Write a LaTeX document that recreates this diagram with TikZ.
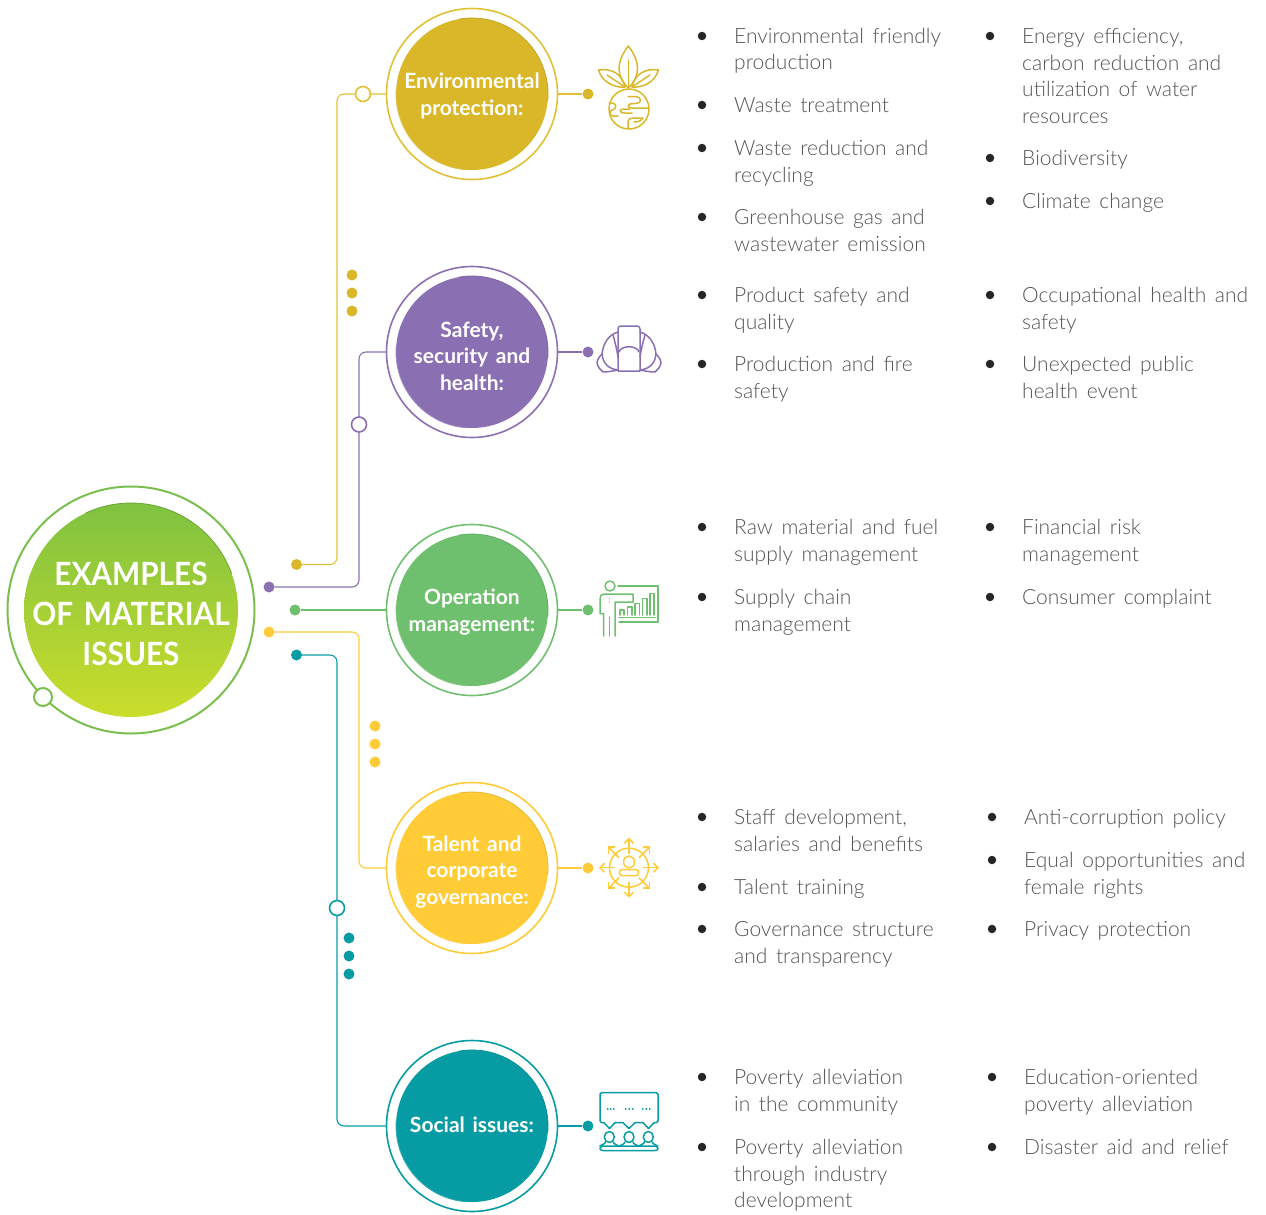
\documentclass[tikz,border=0pt]{standalone}
\usepackage{fontspec}
\setmainfont{Lato}[UprightFont=* Light,BoldFont=* Bold,WordSpace=1.5]
\newfontfamily\mainlabelfont{Lato}[UprightFont=* Bold,FakeStretch=0.93,WordSpace=1.5]
\usetikzlibrary{arrows.meta,calc}
\definecolor{cgold}{HTML}{D9B728}
\definecolor{cgoldl}{HTML}{E2C035}
\definecolor{cpurple}{HTML}{8B6FB3}
\definecolor{cgreen}{HTML}{6FC06E}
\definecolor{cyel}{HTML}{FFCB37}
\definecolor{cteal}{HTML}{079CA4}
\definecolor{cmain}{HTML}{7ABF4E}
\definecolor{ctop}{HTML}{7FC241}
\definecolor{cbot}{HTML}{CBDD2B}
\definecolor{ctext}{HTML}{545454}
\definecolor{cbul}{HTML}{262626}
\tikzset{
  x=1pt,y=-1pt,
  ring/.style={circle,draw=#1,line width=1.6pt,fill=white,minimum size=171pt,inner sep=0pt},
  disc/.style={circle,fill=#1,minimum size=152pt,inner sep=0pt,outer sep=0pt},
  disclabel/.style={inner sep=0pt,text=white,align=center,
     font={\bfseries\fontsize{21}{26.6}\selectfont}},
  dot/.style={circle,fill=#1,minimum size=11pt,inner sep=0pt},
  hollow/.style={circle,draw=#1,fill=white,line width=1.6pt,minimum size=15pt,inner sep=0pt},
  wire/.style={draw=#1,line width=1.1pt,rounded corners=7pt},
  icon/.style={draw=#1,line width=1.5pt,line cap=round,line join=round},
  itemtext/.style={anchor=north west,inner sep=0pt,align=left,text=ctext,
     font={\fontsize{21}{26.8}\selectfont}},
  bulletdot/.style={circle,fill=cbul,minimum size=8.5pt,inner sep=0pt},
}
\newcommand{\itm}[5]{% bulletx, textx, y, name, text
  \node[bulletdot] (b#4) at (#1,#3) {};
  \node[itemtext] (t#4) at (#2,#3-16) {\rule{0pt}{23pt}#5};}
\newcommand{\bevel}[3]{% node, colour, radius
  \draw[#2!90!black,line width=0.8pt,line cap=round,y=1pt] (#1.100) arc[start angle=100,end angle=-5,radius=#3];
  \draw[#2!82!white,line width=0.8pt,line cap=round,y=1pt] (#1.265) arc[start angle=265,end angle=175,radius=#3];}
\begin{document}
\begin{tikzpicture}
\useasboundingbox (0,0) rectangle (1266,1215);
% main
\node[circle,draw=cmain,line width=2pt,minimum size=247pt,inner sep=0pt] (mainring) at (131,610) {};
\node[circle,minimum size=214pt,inner sep=0pt,outer sep=0pt,top color=ctop,bottom color=cbot] (maindisc) at (131,610) {};
\draw[ctop!85!black,line width=0.8pt,line cap=round,y=1pt] (maindisc.115) arc[start angle=115,end angle=20,radius=107];
\node[text=white,align=center,inner sep=0pt,font={\mainlabelfont\fontsize{32}{40.3}\selectfont}] (main) at (131,614) {EXAMPLES\\OF MATERIAL\\ISSUES};
\node[hollow=cmain,minimum size=18pt,line width=2pt] (mainknob) at (43,697) {};
% circles
\node[ring=cgoldl] (r1) at (472,94) {};
\node[ring=cpurple] (r2) at (472,352) {};
\node[ring=cgreen] (r3) at (472,610) {};
\node[ring=cyel] (r4) at (472,868) {};
\node[ring=cteal] (r5) at (472,1126) {};
\node[disc=cgold] (c1) at (472,94) {};
\node[disc=cpurple] (c2) at (472,352) {};
\node[disc=cgreen] (c3) at (472,610) {};
\node[disc=cyel] (c4) at (472,868) {};
\node[disc=cteal] (c5) at (472,1126) {};
\bevel{c1}{cgold}{76}
\bevel{c2}{cpurple}{76}
\bevel{c3}{cgreen}{76}
\bevel{c4}{cyel}{76}
\bevel{c5}{cteal}{76}
\node[disclabel] (l1) at (472,96) {Environmental\\protection:};
\node[disclabel] (l2) at (472,356) {Safety,\\security and\\health:};
\node[disclabel] (l3) at (472,612) {Operation\\management:};
\node[disclabel] (l4) at (472,872) {Talent and\\corporate\\governance:};
\node[disclabel] (l5) at (472,1125) {Social issues:};
% start dots
\node[dot=cgold] (s1) at (296.5,564.5) {};
\node[dot=cpurple] (s2) at (269,587) {};
\node[dot=cgreen] (s3) at (295,610) {};
\node[dot=cyel] (s4) at (269,632) {};
\node[dot=cteal] (s5) at (296.5,655) {};
% end dots
\node[dot=cgold] (e1) at (588,94) {};
\node[dot=cpurple] (e2) at (588,352) {};
\node[dot=cgreen] (e3) at (588,610) {};
\node[dot=cyel] (e4) at (588,868) {};
\node[dot=cteal] (e5) at (588,1126) {};
% bends
\coordinate (k1) at (337,94);
\coordinate (k2) at (359,352);
\coordinate (k4) at (359,868);
\coordinate (k5) at (337,1126);
% wires
\draw[wire=cgoldl] (s1) -| (k1) -- (r1);
\draw[wire=cpurple] (s2) -| (k2) -- (r2);
\draw[wire=cgreen] (s3) -- (r3);
\draw[wire=cyel] (s4) -| (k4) -- (r4);
\draw[wire=cteal] (s5) -| (k5) -- (r5);
\draw[wire=cgoldl] (r1) -- (e1);
\draw[wire=cpurple] (r2) -- (e2);
\draw[wire=cgreen] (r3) -- (e3);
\draw[wire=cyel] (r4) -- (e4);
\draw[wire=cteal] (r5) -- (e5);
% hollow knobs
\node[hollow=cgoldl] (h1) at (363,94) {};
\node[hollow=cpurple] (h2) at (359,424.5) {};
\node[hollow=cteal] (h5) at (337,908) {};
% triple dots
\node[dot=cgold] (g1) at (352,275) {};
\node[dot=cgold] (g2) at (352,293) {};
\node[dot=cgold] (g3) at (352,311) {};
\node[dot=cyel] (y1) at (375,726) {};
\node[dot=cyel] (y2) at (375,744) {};
\node[dot=cyel] (y3) at (375,762) {};
\node[dot=cteal] (q1) at (349,938) {};
\node[dot=cteal] (q2) at (349,956) {};
\node[dot=cteal] (q3) at (349,974) {};
% icon 1: plant and globe
\begin{scope}[icon=cgold]
\draw (628.3,88) .. controls (616,76) and (616,62) .. (628.3,46) .. controls (640.6,62) and (640.6,76) .. (628.3,88) -- cycle;
\draw (628.3,60) -- (628.3,88);
\draw (625,87) .. controls (614,88) and (602,82) .. (598.5,70) .. controls (612,68) and (622,74) .. (625,87) -- cycle;
\draw (607,75) -- (625,87);
\draw (632,87) .. controls (643,88) and (655,82) .. (658.5,70) .. controls (645,68) and (635,74) .. (632,87) -- cycle;
\draw (650,75) -- (632,87);
\draw (629,109) circle (20);
\draw (628,96.5) -- (636,96.5) .. controls (642,97) and (642,103.5) .. (636,103.5) -- (632,103.5) .. controls (627,104) and (627,108) .. (632,108) -- (648,108);
\draw (609,103) -- (612,103) .. controls (617,103) and (617,110) .. (612,110) .. controls (609,111) and (609,116) .. (613,116) -- (618,116);
\draw (632,113) -- (624,113) .. controls (619,113) and (619,109) .. (624,109) -- (630,109);
\draw (628,128) -- (628,122) .. controls (628,119) and (630,118) .. (633,118) -- (643,118) .. controls (640,122) and (637,122) .. (634,122);
\end{scope}
% icon 2: helmet
\begin{scope}[icon=cpurple]
\draw (618,371) -- (618,329) .. controls (618,327) and (619,326) .. (621,326) -- (637,326) .. controls (639,326) and (640,327) .. (640,329) -- (640,371) -- cycle;
\draw (619,352) .. controls (621,345) and (637,345) .. (639,352);
\draw (618,332) .. controls (608,335) and (603,344) .. (602,354) .. controls (599,357) and (597,360) .. (597,363) .. controls (598,367) and (600,370) .. (603,372) .. controls (608,372) and (613,371) .. (618,370);
\draw (640,332) .. controls (650,335) and (655,344) .. (656,354) .. controls (659,357) and (661,360) .. (661,363) .. controls (660,367) and (658,370) .. (655,372) .. controls (650,372) and (645,371) .. (640,370);
\draw (613,335) .. controls (615,342) and (617,350) .. (618,357);
\draw (645,335) .. controls (643,342) and (641,350) .. (640,357);
\draw (602,354) .. controls (603,364) and (609,369) .. (618,370);
\draw (656,354) .. controls (655,364) and (649,369) .. (640,370);
\end{scope}
% icon 3: presenter
\begin{scope}[icon=cgreen]
\draw (610,586) circle (5);
\draw (618,586) -- (658,586) -- (658,622) -- (619,622);
\draw (619,617.5) -- (655,617.5);
\draw (620,615) -- (620,610) -- (624,610) -- (624,615);
\draw (627.5,615) -- (627.5,607) -- (632,607) -- (632,615);
\draw (635,615) -- (635,603.5) -- (639.5,603.5) -- (639.5,615);
\draw (642.5,615) -- (642.5,598.5) -- (647,598.5) -- (647,615);
\draw (650,615) -- (650,593.5) -- (654,593.5) -- (654,615);
\draw (603.5,636) -- (603.5,613.5) -- (600,613.5) -- (600,599) .. controls (600,596) and (601,594) .. (604,594) -- (633,594) -- (633,602) -- (615,602) -- (615,636);
\draw (609.5,617) -- (609.5,636);
\draw (609.5,598.5) -- (609.5,598.6);
\draw (609.5,602) -- (609.5,602.1);
\end{scope}
% icon 4: person and arrows
\begin{scope}[icon=cyel]
\draw (629,867.7) circle (19.5);
\foreach \a in {0,45,...,315}{
  \draw[-{Straight Barb[length=4.5pt,width=9pt]}] ($(629,867.7)+(\a:14.5)$) -- ($(629,867.7)+(\a:30)$);
}
\draw (629,862) ellipse (5.5 and 6);
\draw (622,869.5) -- (636,869.5) .. controls (640,870) and (639,875.7) .. (636,875.7) -- (622,875.7) .. controls (619,875.7) and (618,870) .. (622,869.5) -- cycle;
\end{scope}
% icon 5: speech and audience
\begin{scope}[icon=cteal]
\draw (601.5,1092.7) -- (656.5,1092.7) .. controls (657.5,1092.7) and (658,1093.2) .. (658,1094.2) -- (658,1121) .. controls (658,1122) and (657.5,1122.7) .. (656.5,1122.7) -- (654,1122.7) -- (648.5,1128.5) -- (643,1122.7) -- (635,1122.7) -- (629,1128.5) -- (623,1122.7) -- (615,1122.7) -- (609.5,1128.5) -- (604,1122.7) -- (601.5,1122.7) .. controls (600.5,1122.7) and (600,1122) .. (600,1121) -- (600,1094.2) .. controls (600,1093.2) and (600.5,1092.7) .. (601.5,1092.7) -- cycle;
\foreach \x in {607.5,610.5,613.5,625.5,629,632.5,642.5,646,649.5}{\draw (\x,1109) -- (\x+0.4,1109);}
\foreach \x in {609.3,629,648.3}{
  \draw (\x,1137) ellipse (5 and 5.5);
  \draw (\x-4,1142) .. controls (\x-4,1144) and (\x-8,1145) .. (\x-9.5,1146);
  \draw (\x+4,1142) .. controls (\x+4,1144) and (\x+8,1145) .. (\x+9.5,1146);
}
\draw (603,1146) -- (655,1146) .. controls (659,1147) and (659,1150.5) .. (655,1150.5) -- (603,1150.5) .. controls (599,1150.5) and (599,1147) .. (603,1146) -- cycle;
\end{scope}
% text
\itm{702}{734}{36}{a}{Environmental friendly\\production}
\itm{702}{734}{105}{b}{Waste treatment}
\itm{702}{734}{148}{c}{Waste reduction and\\recycling}
\itm{702}{734}{217}{d}{Greenhouse gas and\\wastewater emission}
\itm{990}{1022}{36}{e}{Energy efficiency,\\carbon reduction and\\utilization of water\\resources}
\itm{990}{1022}{158}{f}{Biodiversity}
\itm{990}{1022}{201}{g}{Climate change}
\itm{702}{734}{295}{h}{Product safety and\\quality}
\itm{702}{734}{364}{i}{Production and fire\\safety}
\itm{990}{1022}{295}{j}{Occupational health and\\safety}
\itm{990}{1022}{364}{k}{Unexpected public\\health event}
\itm{702}{734}{527}{l}{Raw material and fuel\\supply management}
\itm{702}{734}{597}{m}{Supply chain\\management}
\itm{990}{1022}{527}{n}{Financial risk\\management}
\itm{990}{1022}{597}{o}{Consumer complaint}
\itm{702}{734}{817}{p}{Staff development,\\salaries and benefits}
\itm{702}{734}{887}{q}{Talent training}
\itm{702}{734}{929}{r}{Governance structure\\and transparency}
\itm{992}{1024}{817}{s}{Anti-corruption policy}
\itm{992}{1024}{860}{t}{Equal opportunities and\\female rights}
\itm{992}{1024}{929}{u}{Privacy protection}
\itm{702}{734}{1077}{v}{Poverty alleviation\\in the community}
\itm{702}{734}{1147}{w}{Poverty alleviation\\through industry\\development}
\itm{992}{1024}{1077}{x}{Education-oriented\\poverty alleviation}
\itm{992}{1024}{1147}{y}{Disaster aid and relief}
\end{tikzpicture}
\end{document}
